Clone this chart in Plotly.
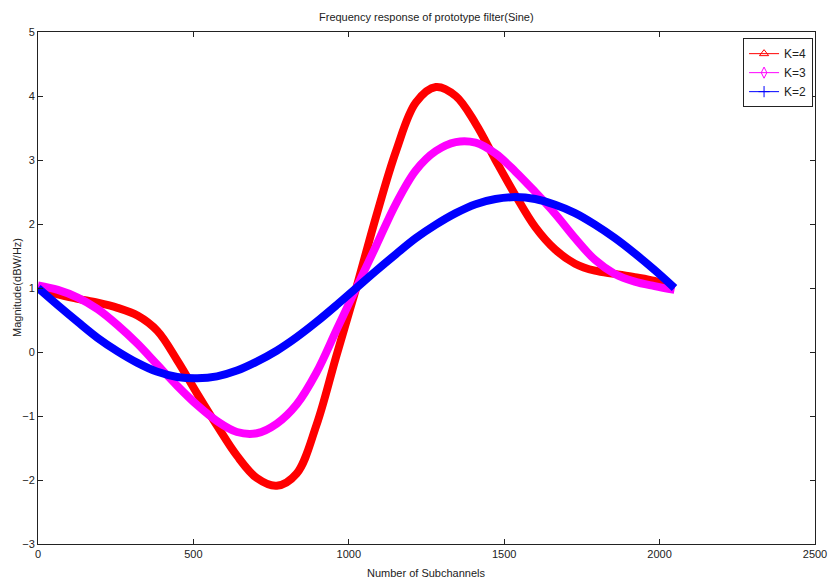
import plotly.graph_objects as go

subchannels = [0, 64, 128, 192, 256, 320, 384, 448, 512, 576, 640, 704, 768, 832, 896, 960,
               1024, 1088, 1152, 1216, 1280, 1344, 1408, 1472, 1536, 1600, 1664, 1728, 1792,
               1856, 1920, 1984, 2048]

k4 = [1.00, 0.90, 0.83, 0.77, 0.69, 0.57, 0.33, -0.13, -0.65, -1.15, -1.62, -1.97, -2.09,
      -1.90, -1.14, -0.06, 1.00, 2.12, 3.14, 3.90, 4.14, 4.00, 3.57, 3.00, 2.45, 1.95, 1.60,
      1.38, 1.27, 1.22, 1.17, 1.11, 1.00]

k3 = [1.04, 0.97, 0.85, 0.67, 0.42, 0.13, -0.20, -0.53, -0.83, -1.08, -1.25, -1.27, -1.12,
      -0.82, -0.32, 0.34, 1.00, 1.66, 2.32, 2.84, 3.14, 3.28, 3.27, 3.10, 2.82, 2.50, 2.16,
      1.78, 1.44, 1.22, 1.10, 1.03, 0.97]

k2 = [1.00, 0.73, 0.47, 0.22, 0.01, -0.17, -0.31, -0.39, -0.41, -0.38, -0.29, -0.15, 0.02,
      0.23, 0.47, 0.73, 1.00, 1.27, 1.53, 1.78, 1.99, 2.17, 2.31, 2.39, 2.42, 2.39, 2.30,
      2.17, 1.99, 1.78, 1.54, 1.28, 1.00]

series = [
    ("K=4", k4, "#ff0000", "triangle-up-open"),
    ("K=3", k3, "#ff00ff", "diamond-tall-open"),
    ("K=2", k2, "#0000ff", "cross-thin-open"),
]

x_ticks = [0, 500, 1000, 1500, 2000, 2500]
y_ticks = [-3, -2, -1, 0, 1, 2, 3, 4, 5]

FONT = "Liberation Sans Narrow, Liberation Sans, Arial, sans-serif"
TXT = "#222222"

fig = go.Figure()
for name, vals, color, sym in series:
    fig.add_trace(go.Scatter(x=subchannels, y=vals, mode="lines", name=name,
                             line=dict(color=color, width=8, shape="spline", smoothing=1.0),
                             showlegend=False, hoverinfo="skip"))
for name, vals, color, sym in series:
    fig.add_trace(go.Scatter(x=[None], y=[None], mode="lines+markers", name=name,
                             line=dict(color=color, width=1),
                             marker=dict(symbol=sym, size=8, color=color,
                                         line=dict(color=color, width=1))))

fig.update_layout(
    width=829, height=581,
    paper_bgcolor="white", plot_bgcolor="white",
    margin=dict(l=38, r=14, t=32, b=37, autoexpand=False),
    font=dict(family=FONT, size=11, color=TXT),
    showlegend=True,
    legend=dict(x=0.9975, y=0.988, xanchor="right", yanchor="top",
                bgcolor="white", bordercolor=TXT, borderwidth=1,
                font=dict(family=FONT, size=12, color=TXT),
                tracegroupgap=0),
    annotations=[
        dict(text="Frequency response of prototype filter(Sine)", x=0.5, y=1.0,
             xref="paper", yref="paper", yanchor="bottom", yshift=7, showarrow=False,
             font=dict(family=FONT, size=11, color=TXT)),
        dict(text="Number of Subchannels", x=0.5, y=-0.0566, xref="paper", yref="paper",
             xanchor="center", yanchor="middle", showarrow=False,
             font=dict(family=FONT, size=11, color=TXT)),
        dict(text="Magnitude(dBW/Hz)", x=-0.027, y=0.5, xref="paper", yref="paper",
             xanchor="center", yanchor="middle", textangle=-90, showarrow=False,
             font=dict(family=FONT, size=11, color=TXT)),
    ],
)

fig.update_xaxes(range=[0, 2500], tickvals=x_ticks, ticks="inside", ticklen=5,
                 tickcolor=TXT, showline=True, linecolor=TXT, linewidth=1,
                 mirror="ticks", showgrid=False, zeroline=False, automargin=False,
                 tickfont=dict(family=FONT, size=11, color=TXT))
fig.update_yaxes(range=[-3, 5], tickvals=y_ticks, ticks="inside", ticklen=5,
                 tickcolor=TXT, showline=True, linecolor=TXT, linewidth=1,
                 mirror="ticks", showgrid=False, zeroline=False, automargin=False,
                 tickfont=dict(family=FONT, size=11, color=TXT))

fig.write_html("out.html")
